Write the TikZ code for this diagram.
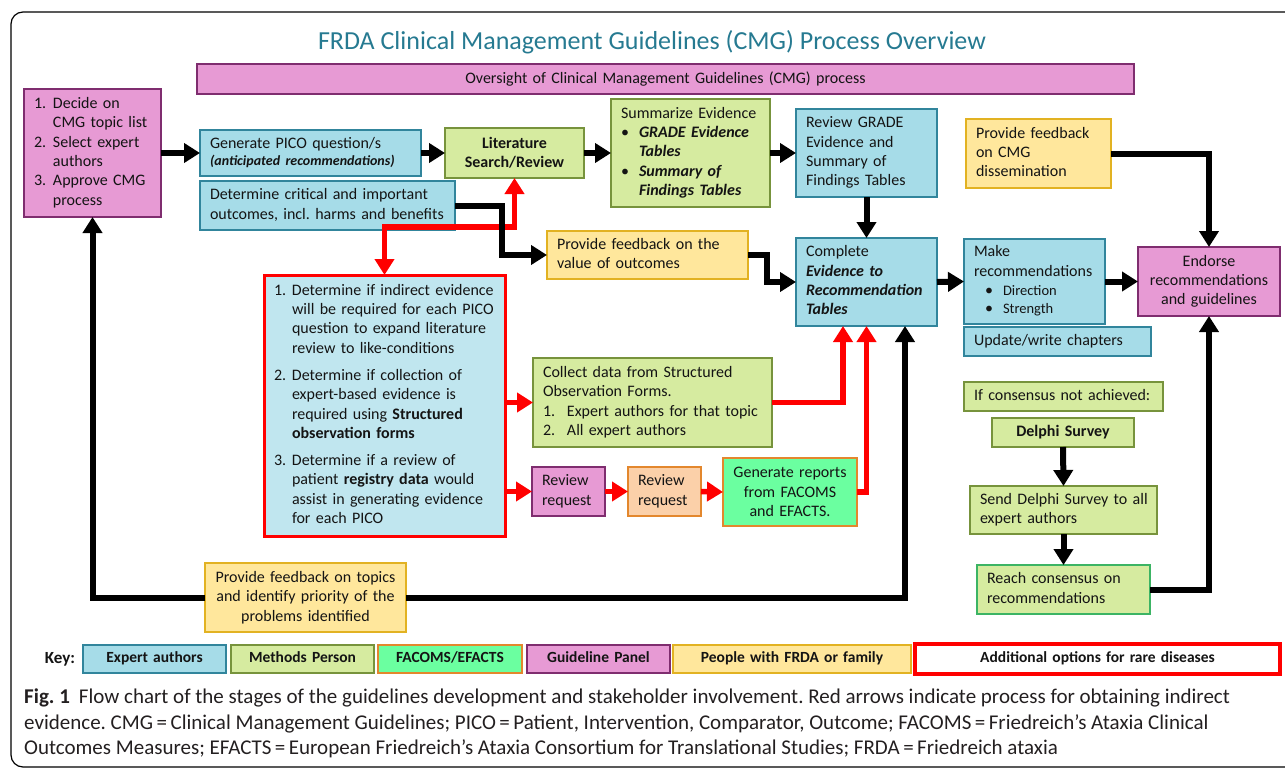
\documentclass[tikz,border=0pt]{standalone}
\usepackage{fontspec}
\setmainfont{Carlito}
\usetikzlibrary{arrows.meta}
\frenchspacing
\definecolor{expF}{RGB}{166,220,232}
\definecolor{expD}{RGB}{49,133,156}
\definecolor{redF}{RGB}{192,230,239}
\definecolor{metF}{RGB}{214,235,160}
\definecolor{metD}{RGB}{119,147,60}
\definecolor{panF}{RGB}{231,154,212}
\definecolor{panD}{RGB}{127,45,111}
\definecolor{yelF}{RGB}{255,231,156}
\definecolor{yelD}{RGB}{226,178,34}
\definecolor{oraF}{RGB}{251,208,169}
\definecolor{oraD}{RGB}{227,135,45}
\definecolor{facF}{RGB}{107,255,160}
\definecolor{reachD}{RGB}{60,180,100}
\definecolor{titleC}{RGB}{38,122,145}
\definecolor{txt}{RGB}{20,20,20}
\definecolor{capC}{RGB}{35,31,32}
\newcommand\fs{\fontsize{16}{19.3}\selectfont}
\newcommand\keyf{\fontsize{15.5}{18}\selectfont\bfseries}
\newcommand\capf{\fontsize{21}{26}\selectfont}
\newcommand\tl[1]{\begin{tabular}{@{}l@{}}#1\end{tabular}}
\newcommand\nl[2]{\makebox[#1pt][l]{#2}}
\newcommand\bx[7]{%
 \pgfmathsetmacro\bw{#5-#3}\pgfmathsetmacro\bh{#6-#4}\pgfmathsetmacro\tw{#5-#3-20}%
 \node[#2, minimum width=\bw pt, minimum height=\bh pt, text width=\tw pt] (#1) at ({(#3+#5)/2},{(#4+#6)/2}) {#7};}
\tikzset{
 bbox/.style={draw, line width=1.3pt, inner sep=0pt, outer sep=0pt, font=\fs, text=txt, align=left},
 expert/.style={bbox, fill=expF, draw=expD},
 meth/.style={bbox, fill=metF, draw=metD},
 gpanel/.style={bbox, fill=panF, draw=panD},
 ppl/.style={bbox, fill=yelF, draw=yelD},
 rev/.style={bbox, fill=oraF, draw=oraD},
 fac/.style={bbox, fill=facF, draw=oraD},
 redbx/.style={bbox, fill=redF, draw=red, line width=3pt},
 reachbx/.style={bbox, fill=metF, draw=reachD},
 keyb/.style={align=center, font=\keyf, text height=11pt, text depth=3.5pt},
 tip/.tip={Triangle[width=19pt,length=16pt]},
 blk/.style={line width=6pt, draw=black, -tip},
 rd/.style={line width=5.5pt, draw=red, -tip},
}
\begin{document}
\begin{tikzpicture}[x=1pt,y=-1pt]
\useasboundingbox (0,0) rectangle (1285,768);
\draw[line width=1.2pt, rounded corners=12pt] (11,12) rectangle (1330,767);
\node[anchor=base, font=\fontsize{26}{30}\selectfont, text=titleC, inner sep=0] (title) at (652,50) {FRDA Clinical Management Guidelines (CMG) Process Overview};

% boxes
\bx{over}{gpanel,align=center}{197}{64}{1134}{94}{Oversight of Clinical Management Guidelines (CMG) process}
\bx{left}{gpanel}{24}{89}{161}{217}{\tl{\nl{19}{1.}Decide on\\ \nl{19}{}CMG topic list\\ \nl{19}{2.}Select expert\\ \nl{19}{}authors\\ \nl{19}{3.}Approve CMG\\ \nl{19}{}process}}
\bx{pico}{expert}{200}{130}{421}{176}{\tl{Generate PICO question/s\\[-2pt] {\fontsize{14}{17}\selectfont\bfseries\itshape (anticipated recommendations)}}}
\bx{crit}{expert}{200}{181}{455}{230}{\tl{Determine critical and important\\ outcomes, incl. harms and benefits}}
\bx{lit}{meth,align=center,font=\fs\bfseries}{445}{128}{584}{178}{Literature\\Search/Review}
\bx{summ}{meth}{611}{99}{770}{207}{\tl{Summarize Evidence\\ \nl{18}{\textbullet}\textbf{\textit{GRADE Evidence}}\\ \nl{18}{}\textbf{\textit{Tables}}\\ \nl{18}{\textbullet}\textbf{\textit{Summary of}}\\ \nl{18}{}\textbf{\textit{Findings Tables}}}}
\bx{grade}{expert}{796}{109}{937}{197}{\tl{Review GRADE\\ Evidence and\\ Summary of\\ Findings Tables}}
\bx{fbcmg}{ppl}{966}{119}{1111}{188}{\tl{Provide feedback\\ on CMG\\ dissemination}}
\bx{fbval}{ppl}{547}{231}{748}{279}{\tl{Provide feedback on the\\ value of outcomes}}
\bx{etr}{expert}{796}{238}{937}{326}{\tl{Complete\\ \textbf{\textit{Evidence to}}\\ \textbf{\textit{Recommendation}}\\ \textbf{\textit{Tables}}}}
\bx{mkrec}{expert}{964}{239}{1105}{324}{\tl{Make\\ recommendations\\ \hspace{11pt}\nl{18}{\textbullet}{\fontsize{14.5}{17}\selectfont Direction}\\[-1pt] \hspace{11pt}\nl{18}{\textbullet}{\fontsize{14.5}{17}\selectfont Strength}}}
\bx{upd}{expert}{964}{327}{1151}{356}{\tl{Update/write chapters}}
\bx{endorse}{gpanel,align=center}{1138}{247}{1280}{316}{Endorse\\recommendations\\and guidelines}
\bx{redbox}{redbx}{264}{275}{505}{536}{\tl{\nl{18}{1.}Determine if indirect evidence\\ \nl{18}{}will be required for each PICO\\ \nl{18}{}question to expand literature\\ \nl{18}{}review to like-conditions\\[8pt] \nl{18}{2.}Determine if collection of\\ \nl{18}{}expert-based evidence is\\ \nl{18}{}required using \textbf{Structured}\\ \nl{18}{}\textbf{observation forms}\\[8pt] \nl{18}{3.}Determine if a review of\\ \nl{18}{}patient \textbf{registry data} would\\ \nl{18}{}assist in generating evidence\\ \nl{18}{}for each PICO}}
\bx{collect}{meth}{533}{358}{772}{447}{\tl{Collect data from Structured\\ Observation Forms.\\ \nl{24}{1.}Expert authors for that topic\\ \nl{24}{2.}All expert authors}}
\bx{rrA}{gpanel}{532}{467}{605}{516}{\tl{Review\\ request}}
\bx{rrB}{rev}{628}{467}{701}{516}{\tl{Review\\ request}}
\bx{gen}{fac,align=center}{723}{458}{857}{526}{Generate reports\\from FACOMS\\and EFACTS.}
\bx{ifc}{meth}{964}{382}{1163}{411}{\tl{If consensus not achieved:}}
\bx{delphi}{meth,align=center,font=\fs\bfseries}{992}{418}{1134}{447}{Delphi Survey}
\bx{send}{meth}{970}{486}{1157}{534}{\tl{Send Delphi Survey to all\\ expert authors}}
\bx{reach}{reachbx}{977}{565}{1150}{614}{\tl{Reach consensus on\\ recommendations}}
\bx{topics}{ppl,align=center}{205}{563}{406}{632}{Provide feedback on topics\\and identify priority of the\\problems identified}

% connectors
\draw[blk] (left.east) -- (pico.west);
\draw[blk] (pico.east) -- (lit.west);
\draw[blk] (lit.east) -- (summ.west);
\draw[blk] (summ.east) -- (grade.west);
\draw[blk] (grade.south) -- (etr.north);
\draw[blk] (fbval.east) -- ++(19,0) |- (etr.west);
\draw[blk] (etr.east) -- (mkrec.west);
\draw[blk] (mkrec.east) -- (endorse.west);
\draw[blk] (fbcmg.east) -| (endorse.north);
\draw[blk] (reach.east) -| (endorse.south);
\draw[blk] (delphi.south) -- (send.north);
\draw[blk] (send.south) -- (reach.north);
\draw[blk] (topics.west) -| (left.south);
\draw[blk] (topics.east) -| ([xshift=-32pt]etr.south east);
\draw[rd, tip-tip] (redbox.north) -- ++(0,-48) -| (lit.south);
\draw[blk] (crit.east) -- ++(47,0) |- (fbval.west);
\draw[rd] (redbox.east |- collect.west) -- (collect.west);
\draw[rd] (redbox.east |- rrA.west) -- (rrA.west);
\draw[rd] (rrA.east) -- (rrB.west);
\draw[rd] (rrB.east) -- (gen.west);
\draw[rd] (collect.east) -| ([xshift=-23.5pt]etr.south);
\draw[rd] (gen.east) -| (etr.south);

% key
\node[font=\fontsize{17}{19}\selectfont\bfseries, text=txt, inner sep=0] (keylbl) at (60,659) {Key:};
\bx{kA}{expert,keyb}{83}{645}{226}{673}{Expert authors}
\bx{kB}{meth,keyb}{231}{645}{374}{673}{Methods Person}
\bx{kC}{fac,keyb}{378}{645}{522}{673}{FACOMS/EFACTS}
\bx{kD}{gpanel,keyb}{527}{645}{670}{673}{Guideline Panel}
\bx{kE}{ppl,keyb}{673}{645}{911}{673}{People with FRDA or family}
\bx{kF}{bbox,keyb,fill=white,draw=red,line width=4pt}{915}{644}{1280}{674}{Additional options for rare diseases}

% caption
\node[anchor=base west, font=\capf, text=capC, inner sep=0] (cap1) at (24,703) {\textbf{Fig. 1}\hspace{9pt}Flow chart of the stages of the guidelines development and stakeholder involvement. Red arrows indicate process for obtaining indirect};
\node[anchor=base west, font=\capf, text=capC, inner sep=0] (cap2) at (24,729) {evidence. CMG\,=\,Clinical Management Guidelines; PICO\,=\,Patient, Intervention, Comparator, Outcome; FACOMS\,=\,Friedreich’s Ataxia Clinical};
\node[anchor=base west, font=\capf, text=capC, inner sep=0] (cap3) at (24,754) {Outcomes Measures; EFACTS\,=\,European Friedreich’s Ataxia Consortium for Translational Studies; FRDA\,=\,Friedreich ataxia};
\end{tikzpicture}
\end{document}
